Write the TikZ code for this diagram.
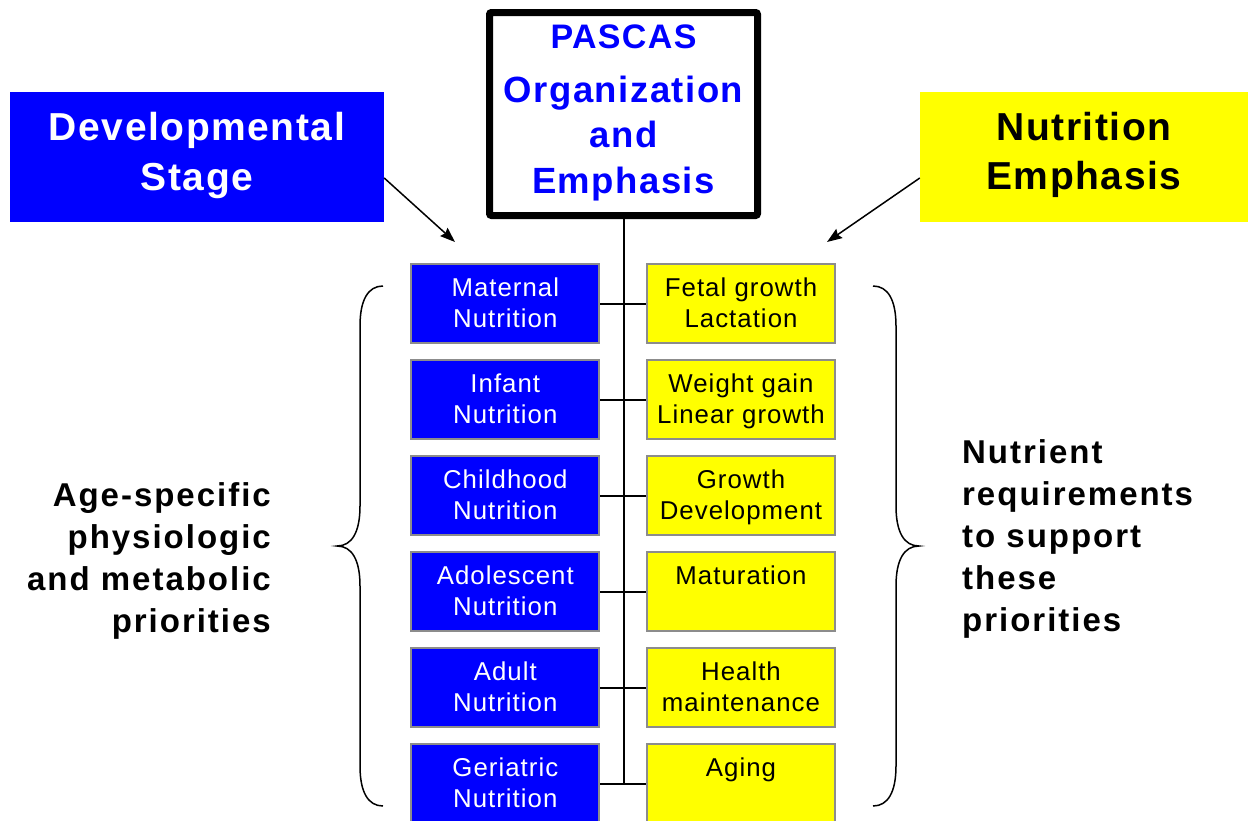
\documentclass[tikz,border=0pt]{standalone}
\usepackage{fontspec}
\setmainfont{Liberation Sans}
\newfontfamily\hfont{Liberation Sans}[LetterSpace=4]
\newfontfamily\bxfont{Liberation Sans}[LetterSpace=4]
\newfontfamily\sidefont{Liberation Sans}[LetterSpace=6]
\usetikzlibrary{arrows.meta,calc}
\definecolor{pblue}{RGB}{0,0,255}
\definecolor{pyellow}{RGB}{255,255,0}
\definecolor{pgray}{RGB}{140,140,140}
\newcommand\bxtext[1]{\parbox[c][79pt][t]{188pt}{\centering\bxfont\fontsize{25.8}{31.7}\selectfont\rule{0pt}{31.7pt}#1}}
\begin{document}
\begin{tikzpicture}[x=1pt,y=-1pt,
  bluebox/.style={draw=pgray, line width=2pt, fill=pblue, text=white, inner sep=0pt, anchor=north},
  yellowbox/.style={draw=pgray, line width=2pt, fill=pyellow, text=black, inner sep=0pt, anchor=north},
  headbox/.style={inner sep=0pt},
  conn/.style={line width=1.8pt, black},
  arr/.style={line width=1.5pt, black, -{Stealth[length=15pt,width=11pt,inset=2pt]}},
  bracestyle/.style={line width=1.5pt, black},
  sidetext/.style={inner sep=0pt, font=\sidefont\bfseries\fontsize{33}{42}\selectfont}
]
\useasboundingbox (0,0) rectangle (1250,820);
\fill[white] (0,0) rectangle (1250,820);

% heading boxes
\node[headbox, fill=pblue] (dev) at (197,157)
  {\parbox[c][130pt][t]{374pt}{\centering\hfont\bfseries\fontsize{39}{50}\selectfont\color{white}\rule{0pt}{48pt}Developmental\\Stage}};
\node[headbox, fill=pyellow] (nut) at (1084,157)
  {\parbox[c][130pt][t]{328pt}{\centering\hfont\bfseries\fontsize{39}{49}\selectfont\color{black}\rule{0pt}{48pt}Nutrition\\Emphasis}};

% small boxes
\foreach \i/\bt/\yt in {0/{Maternal\\Nutrition}/{Fetal growth\\Lactation},
                        1/{Infant\\Nutrition}/{Weight gain\\Linear growth},
                        2/{Childhood\\Nutrition}/{Growth\\Development},
                        3/{Adolescent\\Nutrition}/{Maturation},
                        4/{Adult\\Nutrition}/{Health\\maintenance},
                        5/{Geriatric\\Nutrition}/{Aging}}{
  \node[bluebox] (b\i) at (505.3,263.3+96*\i) {\bxtext{\bt}};
  \node[yellowbox] (y\i) at (741,263.3+96*\i) {\bxtext{\yt}};
}

% top box
\node[draw=black, line width=7pt, rounded corners=2pt, fill=white, inner sep=0pt] (pascas) at (623.5,114)
  {\parbox[c][203pt][t]{268pt}{\centering\hfont\bfseries\color{pblue}\fontsize{34}{45.5}\selectfont\rule{0pt}{35.5pt}PASCAS\\[8.5pt]\fontsize{36.5}{45.5}\selectfont Organization\\and\\Emphasis}};

% trunk and connectors
\coordinate (trunkend) at (pascas.south |- b5.east);
\draw[line width=2pt] (pascas.south) -- (trunkend);
\foreach \i in {0,...,5}{
  \draw[conn] (b\i.east) -- (y\i.west);
}

% arrows
\coordinate (arrL) at (455,242);
\coordinate (arrR) at (827,242);
\draw[arr] ($(dev.east)+(0,21)$) -- (arrL);
\draw[arr] ($(nut.west)+(0,21)$) -- (arrR);

% braces
\draw[bracestyle] (383,286) .. controls (368,286) and (360,300) .. (360,326) -- (360,506)
  .. controls (360,532) and (352,546) .. (337,546)
  .. controls (352,546) and (360,560) .. (360,586) -- (360,766)
  .. controls (360,792) and (368,806) .. (383,806);
\draw[bracestyle] (873,286) .. controls (888,286) and (896,300) .. (896,326) -- (896,506)
  .. controls (896,532) and (904,546) .. (919,546)
  .. controls (904,546) and (896,560) .. (896,586) -- (896,766)
  .. controls (896,792) and (888,806) .. (873,806);

% side texts
\node[sidetext, align=right, anchor=north east] (agetxt) at (271,481.7)
  {\rule{0pt}{25pt}Age-specific\\physiologic\\and metabolic\\priorities};
\node[sidetext, align=left, anchor=north west] (nuttxt) at (962,438)
  {\rule{0pt}{25pt}Nutrient\\requirements\\to support\\these\\priorities};
\end{tikzpicture}
\end{document}
